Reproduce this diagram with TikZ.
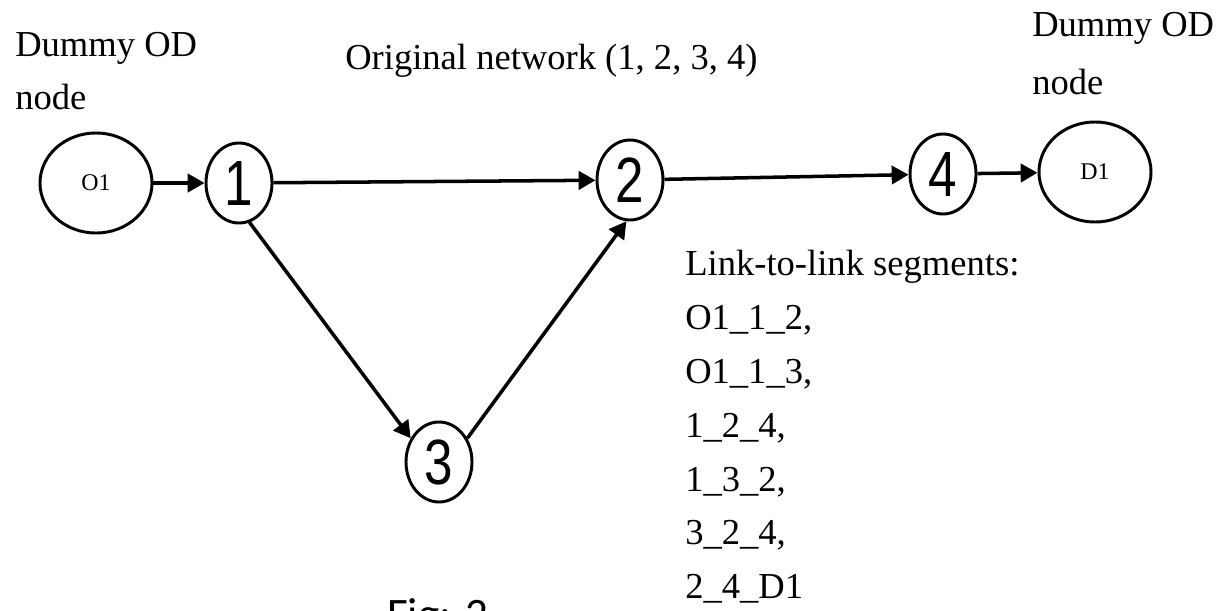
\documentclass[tikz,border=0pt]{standalone}
\usepackage{fontspec}
\setmainfont{Liberation Serif}
\newfontfamily\digitfont{Liberation Sans}
\newfontfamily\capfont{Carlito}
\usetikzlibrary{shapes.geometric, arrows.meta, positioning}
\newcommand{\netnum}[1]{\scalebox{0.8}[1]{#1}}

\begin{document}
\begin{tikzpicture}[
    x=0.025cm, y=-0.025cm,
    odnode/.style={ellipse, draw, line width=2.1pt, minimum width=2.8cm,
                   minimum height=2.5cm, inner sep=0pt, font=\fontsize{17}{20}\selectfont},
    netnode/.style={ellipse, draw, line width=2.1pt, minimum width=1.65cm,
                    minimum height=2cm, inner sep=0pt, font=\digitfont\fontsize{45.5}{50}\selectfont},
    note/.style={anchor=north west, inner sep=0pt, align=left},
    arr/.style={-{Triangle[length=12pt, width=13pt]}, line width=2.5pt}
]
\useasboundingbox (0,0) rectangle (1230,611);
\clip (0,0) rectangle (1230,611);

% network
\node[odnode]  (o1) at (96,183)   {O1};
\node[netnode] (n1) at (239,183)  {\netnum{1}};
\node[netnode] (n2) at (630,180)  {\netnum{2}};
\node[netnode] (n3) at (439,462)  {\netnum{3}};
\node[netnode] (n4) at (943,174)  {\netnum{4}};
\node[odnode]  (d1) at (1095,172) {D1};

% labels
\node[note, font=\fontsize{26}{37.7}\selectfont] (dummyo) at (15,32) {Dummy OD\\node};
\node[note, font=\fontsize{26}{41.3}\selectfont] (dummyd) at (1032,12) {Dummy OD\\node};
\node[anchor=base west, inner sep=0pt, font=\fontsize{26}{30}\selectfont] (orig) at (345,70)
    {Original network (1, 2, 3, 4)};
\node[note, font=\fontsize{26}{38.3}\selectfont] (segs) at (685,250)
    {Link-to-link segments:\\O1\_1\_2,\\O1\_1\_3,\\1\_2\_4,\\1\_3\_2,\\3\_2\_4,\\2\_4\_D1};
\node[anchor=base west, inner sep=0pt, font=\capfont\fontsize{32}{36}\selectfont] (figcap) at (387,629)
    {Fig: 2};

\draw[arr] (o1) -- (n1);
\draw[arr] (n1) -- (n2);
\draw[arr] (n2) -- (n4);
\draw[arr] (n4) -- (d1);
\draw[arr] (n1.-75) -- (n3.140);
\draw[arr] (n3.40) -- (n2.265);

\end{tikzpicture}
\end{document}
